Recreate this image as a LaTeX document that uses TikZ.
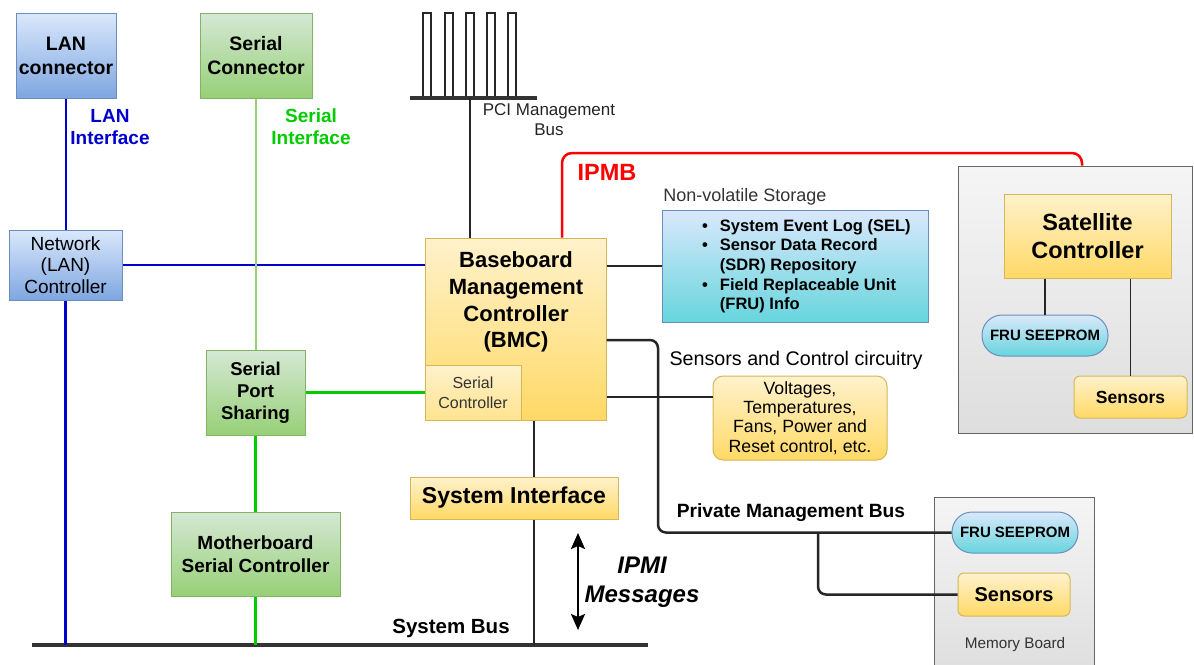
\documentclass[tikz,border=0pt]{standalone}
\usepackage{fontspec}
\setmainfont{Liberation Sans}
\usetikzlibrary{arrows.meta}
\newcommand\myfs[2]{\fontsize{#1pt}{#2pt}\selectfont}
\definecolor{bluetop}{HTML}{DAE8FC}
\definecolor{bluebot}{HTML}{7EA6E0}
\definecolor{bluebd}{HTML}{6C8EBF}
\definecolor{greentop}{HTML}{D5E8D4}
\definecolor{greenbot}{HTML}{97D077}
\definecolor{greenbd}{HTML}{82B366}
\definecolor{yellowtop}{HTML}{FFF2CC}
\definecolor{yellowbot}{HTML}{FFD966}
\definecolor{yellowbd}{HTML}{D6B656}
\definecolor{cyanbot}{HTML}{67D5DD}
\definecolor{graytop}{HTML}{F5F5F5}
\definecolor{graybot}{HTML}{DEDEDE}
\definecolor{graybd}{HTML}{666666}
\definecolor{lanblue}{HTML}{0000CC}
\definecolor{lgreen}{HTML}{97D077}
\definecolor{bgreen}{HTML}{00CC00}
\definecolor{ipmbred}{HTML}{FF0000}
\definecolor{txtgray}{HTML}{333333}
\begin{document}
\begin{tikzpicture}[x=1pt,y=-1pt,
  wh/.style 2 args={minimum width=#1, minimum height=#2},
  bx/.style={draw, rectangle, inner sep=0pt, align=center, line width=1pt},
  blueb/.style={bx, draw=bluebd, top color=bluetop, bottom color=bluebot},
  greenb/.style={bx, draw=greenbd, top color=greentop, bottom color=greenbot},
  yellowb/.style={bx, draw=yellowbd, top color=yellowtop, bottom color=yellowbot},
  cyanb/.style={bx, draw=bluebd, top color=bluetop, bottom color=cyanbot},
  grayb/.style={bx, draw=graybd, top color=graytop, bottom color=graybot},
  lbl/.style={inner sep=0pt, align=center},
  lanline/.style={draw=lanblue, line width=2.5pt},
  sline/.style={draw=lgreen, line width=2.5pt},
  gline/.style={draw=bgreen, line width=2.5pt},
  bline/.style={draw=black!85, line width=2.5pt},
  thinline/.style={draw=black!85, line width=1.4pt},
  busline/.style={draw=black!80, line width=3.2pt},
  ipmb/.style={draw=ipmbred, line width=2.5pt},
]
\useasboundingbox (0,0) rectangle (1194,664);

% ---------- left column ----------
\node[blueb, wh={100}{85}, font=\myfs{19.5}{24}\bfseries] (lan) at (66,55.5) {LAN\\connector};
\node[greenb, wh={112}{85}, font=\myfs{19.5}{24}\bfseries] (sercon) at (256,55.5) {Serial\\Connector};
\node[blueb, wh={113}{70}, font=\myfs{19}{21.5}] (netc) at (65.5,265) {Network\\(LAN)\\Controller};
\node[greenb, wh={99}{85}, font=\myfs{18.5}{22}\bfseries] (sps) at (255.5,392.5) {Serial\\Port\\Sharing};
\node[greenb, wh={169}{84}, font=\myfs{19}{23}\bfseries] (mb) at (255.5,554) {Motherboard\\Serial Controller};

\node[lbl, text=lanblue, font=\myfs{19}{22}\bfseries] (lanlbl) at (110,127) {LAN\\Interface};
\node[lbl, text=bgreen, font=\myfs{19}{22}\bfseries] (serlbl) at (311,127) {Serial\\Interface};

% ---------- system bus ----------
\coordinate (busL) at (32,645);
\coordinate (busR) at (648,645);
\draw[busline] (busL) -- (busR);
\node[lbl, font=\myfs{20.5}{24}\bfseries] (buslbl) at (451,628) {System Bus};

% ---------- PCI management bus ----------
\foreach \px in {423,445,466,487,508}
  \draw[black!85, line width=1.4pt] (\px,98) -- (\px,13) -- (\px+8,13) -- (\px+8,98);
\coordinate (pciL) at (410,98);
\coordinate (pciR) at (537,98);
\coordinate (pcitap) at (470,98);
\draw[busline] (pciL) -- (pciR);
\node[lbl, font=\myfs{17}{20}, text=txtgray!70!black] (pcilbl) at (549,120) {PCI Management\\Bus};

% ---------- BMC ----------
\node[yellowb, wh={181}{182}] (bmc) at (515.5,329) {};
\node[lbl, font=\myfs{22}{26.7}\bfseries] (bmctxt) at (516,302) {Baseboard\\Management\\Controller\\(BMC)};
\node[bx, draw=yellowbd, line width=0.8pt, top color=yellowtop, bottom color=yellowtop!40!yellowbot, wh={96}{55}, font=\myfs{16}{20}, text=txtgray] (sctrl) at (473,392.5) {Serial\\Controller};

\node[yellowb, wh={208}{42}, font=\myfs{23}{26}\bfseries] (sysif) at (514,498) {System Interface};

% ---------- storage ----------
\node[lbl, font=\myfs{18}{21}, text=txtgray] (storlbl) at (745,197) {Non-volatile Storage};
\node[cyanb, wh={266}{112}] (stor) at (795,266) {};
\node[anchor=west, inner sep=0pt, font=\myfs{16.5}{19.7}\bfseries] (stortxt) at (702,266.5) {%
  \begin{tabular}{@{}l@{\hspace{12pt}}l@{}}
  \textbullet & System Event Log (SEL)\\
  \textbullet & Sensor Data Record\\
   & (SDR) Repository\\
  \textbullet & Field Replaceable Unit\\
   & (FRU) Info
  \end{tabular}};

% ---------- sensors ----------
\node[lbl, font=\myfs{19.7}{22}] (senslbl) at (796,360) {Sensors and Control circuitry};
\node[yellowb, rounded corners=10pt, wh={174}{84}, font=\myfs{17.7}{19.3}] (volt) at (800,418) {Voltages,\\Temperatures,\\Fans, Power and\\Reset control, etc.};

\node[lbl, font=\myfs{19.2}{22}\bfseries] (pmblbl) at (791,513) {Private Management Bus};

\node[lbl, font=\myfs{24}{29}\bfseries\itshape] (ipmilbl) at (642,582.5) {IPMI\\Messages};

% ---------- satellite ----------
\node[grayb, wh={234}{267}] (satgrp) at (1075,299.5) {};
\node[yellowb, wh={167}{84}, font=\myfs{23.5}{28}\bfseries] (sat) at (1087.5,236) {Satellite\\Controller};
\node[cyanb, rounded corners=20pt, wh={126}{41}, font=\myfs{15}{18}\bfseries] (fru1) at (1045,335.5) {FRU SEEPROM};
\node[yellowb, rounded corners=6pt, wh={113}{42}, font=\myfs{17.5}{20}\bfseries] (sens1) at (1130.5,397) {Sensors};

% ---------- memory board ----------
\node[grayb, wh={160}{180}] (memgrp) at (1014,587) {};
\node[cyanb, rounded corners=20pt, wh={126}{41}, font=\myfs{15}{18}\bfseries] (fru2) at (1015,532.5) {FRU SEEPROM};
\node[yellowb, rounded corners=6pt, wh={112}{43}, font=\myfs{20}{23}\bfseries] (sens2) at (1014,594.5) {Sensors};
\node[lbl, font=\myfs{15.3}{18}, text=txtgray] (memlbl) at (1015,645) {Memory Board};

% ---------- connectors ----------
\draw[lanline] (lan.south) -- (lan.south |- netc.north);
\draw[lanline] (netc.south) -- (netc.south |- busL);
\draw[lanline] (netc.east) -- (netc.east -| bmc.west);
\draw[sline] (sercon.south) -- (sercon.south |- sps.north);
\draw[gline] (sps.east) -- (sps.east -| sctrl.west);
\draw[gline] (sps.south) -- (mb.north);
\draw[gline] (mb.south) -- (mb.south |- busL);

\draw[bline] (pcitap) -- (pcitap |- bmc.north);

\coordinate (ipmbA) at (562,153);
\coordinate (ipmbB) at (1082,153);
\draw[ipmb, rounded corners=10pt] (ipmbA |- bmc.north) -- (ipmbA) -- (ipmbB) -- (ipmbB |- satgrp.north);
\node[lbl, text=ipmbred, font=\myfs{23.5}{26}\bfseries] (ipmblbl) at (607,172) {IPMB};

\draw[bline] (bmc.east |- stor.west) -- (stor.west);

\coordinate (pmA) at (658,340);
\coordinate (pmB) at (818,532.5);
\draw[bline, rounded corners=8pt] (bmc.east |- pmA) -- (pmA) -- (pmA |- fru2.west) -- (fru2.west);
\draw[bline, rounded corners=8pt] (pmB) -- (pmB |- sens2.west) -- (sens2.west);

\coordinate (sensY) at (0,397);
\draw[bline] (bmc.east |- sensY) -- (volt.west |- sensY);

\coordinate (sysX) at (534,0);
\draw[bline] (bmc.south -| sysX) -- (sysif.north -| sysX);
\draw[bline] (sysif.south -| sysX) -- (busL -| sysX);

\coordinate (arT) at (578,533);
\coordinate (arB) at (578,630);
\draw[black, line width=2.2pt, {Stealth[length=16pt,width=14pt,inset=3pt]}-{Stealth[length=16pt,width=14pt,inset=3pt]}] (arT) -- (arB);

\draw[thinline] (sat.south -| fru1.north) -- (fru1.north);
\draw[thinline] (sat.south -| sens1.north) -- (sens1.north);
\end{tikzpicture}
\end{document}
